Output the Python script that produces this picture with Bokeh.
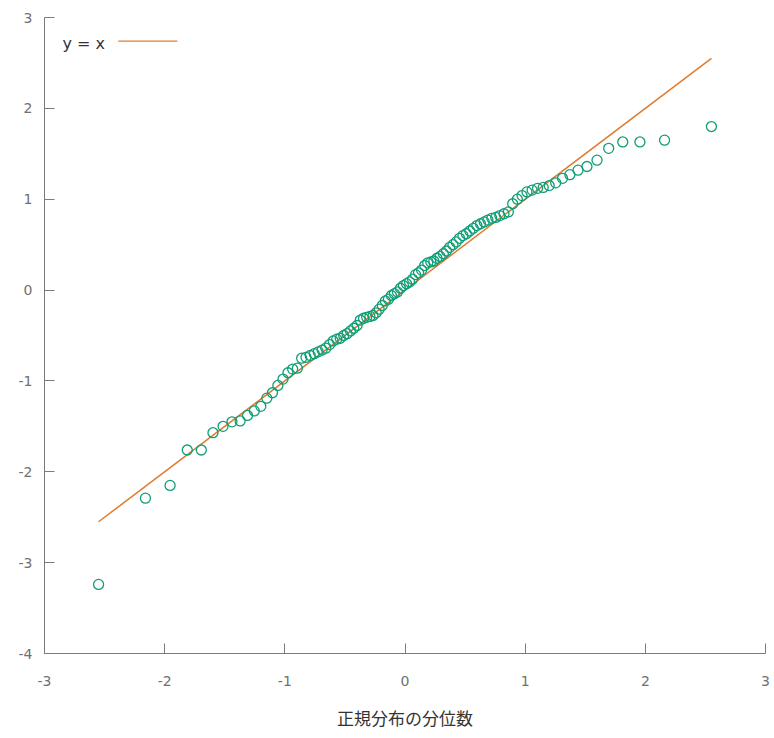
from bokeh.plotting import figure
from bokeh.models import Range1d, FixedTicker, Label, BoxAnnotation, ColumnDataSource
from bokeh.embed import file_html
from bokeh.resources import INLINE

# theoretical normal quantiles (x) and sorted sample values (y)
theoretical = [
    -2.550, -2.160, -1.955, -1.812, -1.695, -1.598, -1.514, -1.440, -1.372, -1.311,
    -1.254, -1.200, -1.150, -1.103, -1.058, -1.015, -0.974, -0.935, -0.896, -0.860,
    -0.824, -0.789, -0.755, -0.722, -0.690, -0.659, -0.628, -0.598, -0.568, -0.539,
    -0.510, -0.482, -0.454, -0.426, -0.399, -0.372, -0.345, -0.319, -0.292, -0.266,
    -0.240, -0.215, -0.189, -0.164, -0.138, -0.113, -0.088, -0.063, -0.038, -0.013,
    0.013, 0.038, 0.063, 0.088, 0.113, 0.138, 0.164, 0.189, 0.215, 0.240,
    0.266, 0.292, 0.319, 0.345, 0.372, 0.399, 0.426, 0.454, 0.482, 0.510,
    0.539, 0.568, 0.598, 0.628, 0.659, 0.690, 0.722, 0.755, 0.789, 0.824,
    0.860, 0.896, 0.935, 0.974, 1.015, 1.058, 1.103, 1.150, 1.200, 1.254,
    1.311, 1.372, 1.440, 1.514, 1.598, 1.695, 1.812, 1.955, 2.160, 2.550,
]
sample = [
    -3.24, -2.29, -2.15, -1.76, -1.76, -1.57, -1.50, -1.45, -1.44, -1.38,
    -1.33, -1.28, -1.19, -1.13, -1.05, -0.98, -0.91, -0.87, -0.86, -0.75,
    -0.74, -0.72, -0.70, -0.68, -0.66, -0.64, -0.60, -0.56, -0.54, -0.53,
    -0.50, -0.48, -0.45, -0.42, -0.39, -0.33, -0.31, -0.30, -0.29, -0.28,
    -0.25, -0.21, -0.17, -0.12, -0.10, -0.06, -0.04, -0.02, 0.02, 0.05,
    0.07, 0.09, 0.12, 0.17, 0.19, 0.22, 0.27, 0.30, 0.31, 0.32,
    0.35, 0.37, 0.40, 0.43, 0.47, 0.50, 0.53, 0.57, 0.60, 0.62,
    0.65, 0.68, 0.71, 0.73, 0.75, 0.77, 0.79, 0.80, 0.82, 0.84,
    0.86, 0.95, 1.00, 1.04, 1.08, 1.10, 1.12, 1.13, 1.15, 1.18,
    1.23, 1.27, 1.32, 1.36, 1.43, 1.56, 1.63, 1.63, 1.65, 1.80,
]
line_x = [min(theoretical), max(theoretical)]
line_y = [min(theoretical), max(theoretical)]
x_ticks = [-3, -2, -1, 0, 1, 2, 3]
y_ticks = [-4, -3, -2, -1, 0, 1, 2, 3]
x_label = "正規分布の分位数"
legend_text = "y = x"

POINT_COLOR = "#0f9e76"
LINE_COLOR = "#e07b2e"
TICK_FONT = "DejaVu Sans"
CJK_FONT = "Noto Sans CJK JP"

p = figure(width=770, height=734, output_backend="svg", toolbar_location=None,
           x_range=Range1d(-3, 3), y_range=Range1d(-4, 3),
           min_border_left=44, min_border_right=5, min_border_top=17, min_border_bottom=81)
p.outline_line_color = None
p.grid.visible = False
p.background_fill_color = "white"
p.border_fill_color = "white"

p.line(line_x, line_y, line_color=LINE_COLOR, line_width=1.5)
src = ColumnDataSource(dict(x=theoretical, y=sample))
p.scatter("x", "y", source=src, marker="circle", size=10, fill_color=None,
          line_color=POINT_COLOR, line_width=1.3)

for ax, ticks in ((p.xaxis[0], x_ticks), (p.yaxis[0], y_ticks)):
    ax.ticker = FixedTicker(ticks=ticks)
    ax.major_label_overrides = {t: str(t) for t in ticks}
    ax.minor_tick_line_color = None
    ax.major_tick_in = 10
    ax.major_tick_out = 0
    ax.axis_line_color = "#7a7a7a"
    ax.major_tick_line_color = "#7a7a7a"
    ax.major_label_text_color = "#707070"
    ax.major_label_text_font = TICK_FONT
    ax.major_label_text_font_size = "14px"

p.xaxis.major_label_standoff = 22
p.yaxis.major_label_standoff = 12
p.xaxis.axis_label = x_label
p.xaxis.axis_label_text_font = CJK_FONT
p.xaxis.axis_label_text_font_style = "normal"
p.xaxis.axis_label_text_font_size = "17px"
p.xaxis.axis_label_text_color = "#333333"
p.xaxis.axis_label_standoff = 16

# legend (text on the left, line sample on the right)
p.add_layout(Label(x=-2.85, y=2.71, text=legend_text, text_baseline="middle",
                   text_font=TICK_FONT, text_font_size="16px", text_color="#333333"))
p.add_layout(BoxAnnotation(left=-2.386, right=-1.895, bottom=2.732, top=2.748,
                           fill_color=LINE_COLOR, fill_alpha=1.0, line_color=None))

open("out.html", "w").write(file_html(p, INLINE))
